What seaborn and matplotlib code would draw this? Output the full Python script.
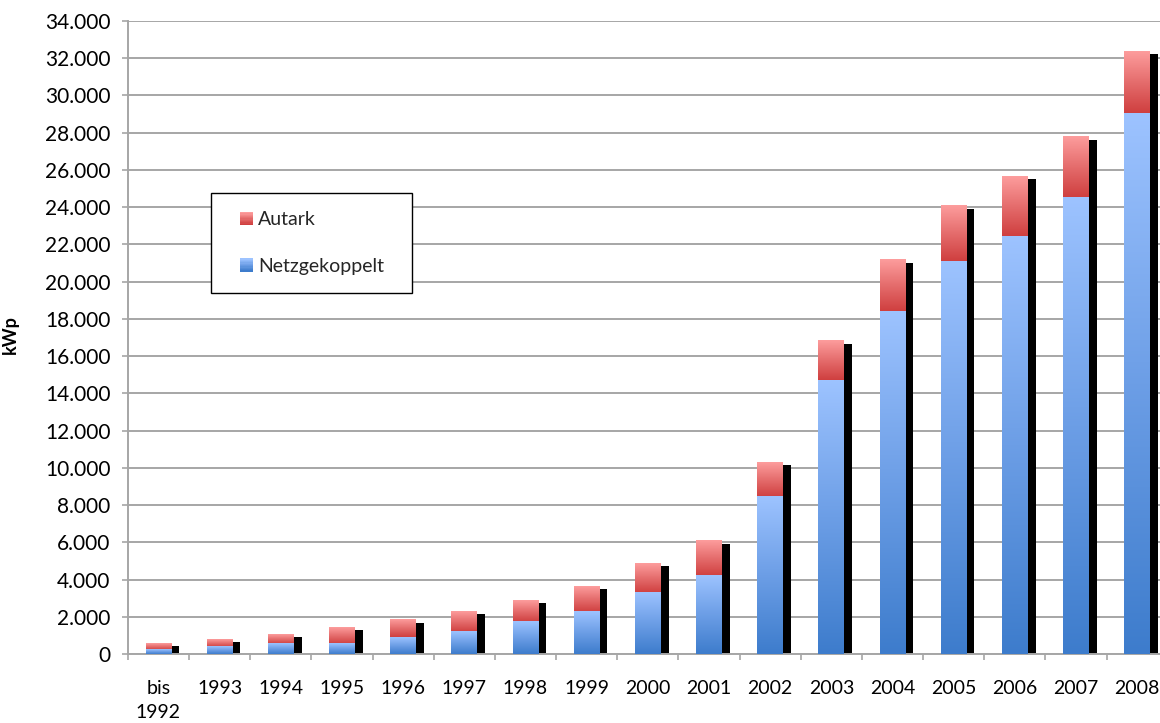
import numpy as np
import matplotlib
matplotlib.use("Agg")
import matplotlib.pyplot as plt
import seaborn as sns
from matplotlib.colors import LinearSegmentedColormap
from matplotlib.ticker import FuncFormatter, MultipleLocator, FixedLocator, NullFormatter
from matplotlib.patches import Rectangle
from matplotlib.legend_handler import HandlerBase

# ---------------- data ----------------
categories = ["bis\n1992", "1993", "1994", "1995", "1996", "1997", "1998", "1999",
              "2000", "2001", "2002", "2003", "2004", "2005", "2006", "2007", "2008"]
netzgekoppelt = [220, 400, 540, 540, 900, 1200, 1730, 2270,
                 3290, 4210, 8450, 14700, 18420, 21100, 22450, 24540, 29050]
autark = [350, 380, 530, 910, 920, 1110, 1170, 1380,
          1610, 1880, 1860, 2100, 2740, 2960, 3220, 3230, 3330]
total = [n + a for n, a in zip(netzgekoppelt, autark)]

# ---------------- style ----------------
sns.set_theme(style="white")
plt.rcParams['font.family'] = ['Lato', 'DejaVu Sans']

W, H = 1160, 723
fig = plt.figure(figsize=(W / 100, H / 100), dpi=100)
ax = fig.add_axes([127.8 / W, 69 / H, 1040 / W, 633 / H])

BAR_W = 0.42
SHADOW_DX = 0.13
SHADOW_DY = 160
GRID_C = "#a6a6a6"

blue_cmap = LinearSegmentedColormap.from_list("b", ["#3d7ccc", "#6c9ee6", "#9dc3ff"])
red_cmap = LinearSegmentedColormap.from_list("r", ["#cf3f3f", "#e56d6d", "#fd9d9d"])

# shadow bars
sns.barplot(x=categories, y=[t - SHADOW_DY for t in total], color="black",
            width=BAR_W, errorbar=None, saturation=1, ax=ax, zorder=2)
shadow = ax.containers[-1]
for p in shadow:
    p.set_x(p.get_x() + SHADOW_DX)
    p.set_edgecolor("none")

# autark (stacked on top) and netzgekoppelt
sns.barplot(x=categories, y=total, color="#e06666", width=BAR_W,
            errorbar=None, saturation=1, ax=ax, zorder=3)
red = ax.containers[-1]
sns.barplot(x=categories, y=netzgekoppelt, color="#6c9ee6", width=BAR_W,
            errorbar=None, saturation=1, ax=ax, zorder=4)
blue = ax.containers[-1]

grad = np.linspace(0, 1, 256).reshape(-1, 1)
for rp, bp in zip(red, blue):
    x0 = rp.get_x()
    w = rp.get_width()
    top = rp.get_height()
    mid = bp.get_height()
    ax.imshow(grad, cmap=red_cmap, origin="lower", aspect="auto",
              extent=[x0, x0 + w, mid, top], zorder=3, interpolation="bilinear")
    ax.imshow(grad, cmap=blue_cmap, origin="lower", aspect="auto",
              extent=[x0, x0 + w, 0, mid], zorder=4, interpolation="bilinear")
    rp.set_visible(False)
    bp.set_visible(False)

ax.set_xlim(-0.5, len(categories) - 0.5)
ax.set_ylim(0, 34000)
ax.set_aspect("auto")

# y axis
ax.yaxis.set_major_locator(MultipleLocator(2000))
ax.yaxis.set_major_formatter(FuncFormatter(lambda v, _: f"{int(v):,}".replace(",", ".")))
ax.grid(axis="y", color=GRID_C, linewidth=1.4, zorder=0)
ax.set_axisbelow(True)
ax.tick_params(axis="y", which="major", left=True, length=4.5, width=1.2,
               color=GRID_C, pad=8, labelsize=15, labelcolor="black")
ax.set_ylabel("kWp", fontsize=13, fontweight="bold", color="black")
ax.yaxis.set_label_coords(-0.105, 0.505)

# x axis
ax.set_xlabel("")
ax.xaxis.set_major_locator(FixedLocator(range(len(categories))))
ax.set_xticklabels(categories)
ax.xaxis.set_minor_locator(FixedLocator(np.arange(-0.5, len(categories), 1.0)))
ax.xaxis.set_minor_formatter(NullFormatter())
ax.tick_params(axis="x", which="major", bottom=True, length=0, pad=18.5,
               labelsize=14, labelcolor="black")
ax.tick_params(axis="x", which="minor", bottom=True, length=4.5, width=1.2, color=GRID_C)
for lbl in ax.get_xticklabels():
    lbl.set_linespacing(1.5)

for s in ["top", "right"]:
    ax.spines[s].set_visible(False)
for s in ["left", "bottom"]:
    ax.spines[s].set_color(GRID_C)
    ax.spines[s].set_linewidth(1.4)


# legend with gradient squares
class GradHandler(HandlerBase):
    def __init__(self, cmap):
        super().__init__()
        self.cmap = cmap

    def create_artists(self, legend, orig_handle, xdescent, ydescent, width,
                       height, fontsize, trans):
        size = 13 * 0.72  # ~13 px square, in points
        x0 = -xdescent + width - size
        y0 = -ydescent + (height - size) / 2
        n = 10
        arts = []
        for i in range(n):
            c = self.cmap(i / (n - 1))
            r = Rectangle((x0, y0 + size * i / n), size, size / n + 0.3,
                          facecolor=c, edgecolor="none", transform=trans)
            arts.append(r)
        return arts


h_red = Rectangle((0, 0), 1, 1)
h_blue = Rectangle((0, 0), 1, 1)
leg = ax.legend([h_red, h_blue], ["Autark", "Netzgekoppelt"],
                handler_map={h_red: GradHandler(red_cmap), h_blue: GradHandler(blue_cmap)},
                loc="upper left", bbox_to_anchor=(0.080, 0.728, 0.193, 0.0),
                mode="expand", borderaxespad=0, fontsize=14, frameon=True,
                fancybox=False, edgecolor="black", borderpad=0.93,
                labelspacing=1.52, handlelength=1.24, handleheight=0.75,
                handletextpad=0.26)
leg.get_frame().set_linewidth(1.0)
leg.get_frame().set_facecolor("white")
leg.get_frame().set_alpha(1)
leg.set_zorder(10)

fig.savefig("out.png", dpi=100)
